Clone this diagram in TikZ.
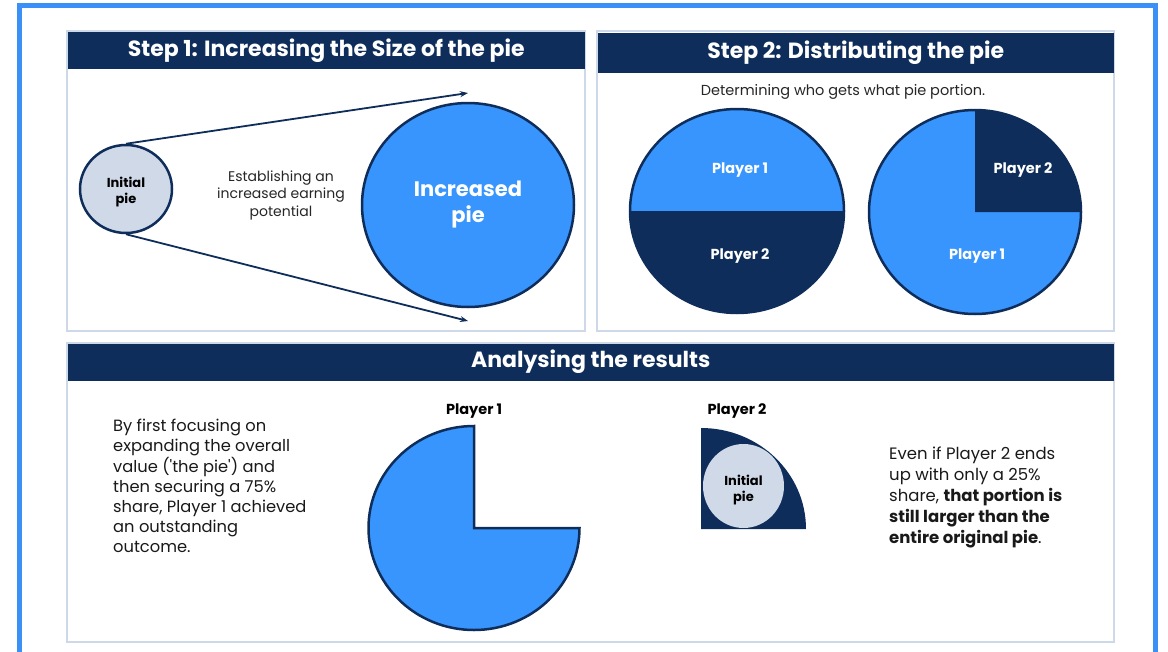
\documentclass[tikz,border=0pt]{standalone}
\usepackage{fontspec}
\setmainfont{Poppins}
\usetikzlibrary{arrows.meta,positioning,shapes.geometric}
\definecolor{navy}{HTML}{0E2D5A}
\definecolor{skyblue}{HTML}{3895FD}
\definecolor{paleblue}{HTML}{CFD9E8}
\definecolor{frameblue}{HTML}{3A90F7}
\definecolor{edgegray}{HTML}{CDD9E8}

\begin{document}
\begin{tikzpicture}[
  x=1pt, y=1pt,
  frame/.style={draw=frameblue, line width=5pt},
  panel/.style={draw=edgegray, line width=2pt},
  hdr/.style={fill=navy, text=white, inner sep=0pt, anchor=north west,
              minimum height=37pt, font=\fontsize{22}{24}\selectfont\bfseries},
  txt/.style={text=black!85, inner sep=0pt, font=\fontsize{14}{17.5}\selectfont},
  para/.style={text=black!90, inner sep=0pt, anchor=north west, align=left,
               font=\fontsize{16.3}{20.2}\selectfont},
  pname/.style={text=white, inner sep=0pt, font=\fontsize{14.5}{16}\selectfont\bfseries},
  piece/.style={ellipse, fill=paleblue, inner sep=0pt},
  ptext/.style={align=center, inner sep=0pt, font=\fontsize{13}{16}\selectfont\bfseries},
  widen/.style={-{Stealth[length=8pt, width=6pt]}, navy, line width=1.8pt}
]
\useasboundingbox (0,0) rectangle (1168,-651);
\draw[frame] (19,-660) |- (1155,-5) -- (1155,-660);

\draw[panel] (67,-31) rectangle (585,-331);
\draw[panel] (597,-31) rectangle (1114,-331);
\draw[panel] (67,-343) rectangle (1114,-642);
\node[hdr, minimum width=517pt] (h1) at (67.5,-32) {Step 1: Increasing the Size of the pie};
\node[hdr, minimum width=516pt, minimum height=40pt] (h2) at (597.5,-33) {Step 2: Distributing the pie};
\node[hdr, minimum width=1046pt] (h3) at (67.5,-343.5) {Analysing the results};

\node[piece, draw=navy, line width=2.5pt, minimum width=92pt, minimum height=88pt] (ini) at (126,-189) {};
\node[ptext] (ini-t) at ([yshift=-3pt]ini.center) {Initial\\pie};
\node[ellipse, draw=navy, line width=2.5pt, fill=skyblue, text=white, align=center,
      minimum width=212pt, minimum height=204pt, font=\fontsize{21}{26}\selectfont\bfseries] (inc) at (468,-205) {Increased\\pie};
\coordinate (top) at (468,-93);
\coordinate (bot) at (468,-321);
\draw[widen] (ini.north) -- (top);
\draw[widen] (ini.south) -- (bot);
\node[txt, align=center] (est) at (281,-195) {Establishing an\\increased earning\\potential};

\node[txt, font=\fontsize{14.5}{17.5}\selectfont] (det) at (843,-92) {Determining who gets what pie portion.};
\fill[skyblue] (737,-211) -- ++(107,0) arc[start angle=0, end angle=180, x radius=107, y radius=102] -- cycle;
\fill[navy] (737,-211) -- ++(-107,0) arc[start angle=180, end angle=360, x radius=107, y radius=102] -- cycle;
\draw[navy, line width=2.5pt] (737,-211) ellipse[x radius=107, y radius=102];
\node[pname] (a1) at (740,-170) {Player 1};
\node[pname] (a2) at (740,-256) {Player 2};
\fill[skyblue] (975,-212) -- ++(0,102) arc[start angle=90, end angle=360, x radius=106, y radius=102] -- cycle;
\fill[navy] (975,-212) -- ++(106,0) arc[start angle=0, end angle=90, x radius=106, y radius=102] -- cycle;
\draw[navy, line width=2.5pt] (975,-212) ellipse[x radius=106, y radius=102];
\node[pname] (b2) at (1023,-170) {Player 2};
\node[pname] (b1) at (977,-256) {Player 1};

\node[para] (why) at (113,-419) {By first focusing on\\expanding the overall\\value (\textquotesingle the pie\textquotesingle) and\\then securing a 75\%\\share, Player 1 achieved\\an outstanding\\outcome.};
\node[pname, text=black] (c1) at (474,-411) {Player 1};
\filldraw[fill=skyblue, draw=navy, line width=2.5pt] (474,-528) -- ++(0,102) arc[start angle=90, end angle=360, x radius=105.5, y radius=102] -- cycle;
\node[pname, text=black] (c2) at (737,-411) {Player 2};
\fill[navy] (701,-529) -- ++(105,0) arc[start angle=0, end angle=90, x radius=105, y radius=101] -- cycle;
\node[piece, minimum width=81pt, minimum height=84pt] (old) at (743.5,-486) {};
\node[ptext] (old-t) at ([yshift=-4pt]old.center) {Initial\\pie};
\node[para, font=\fontsize{16.5}{20.8}\selectfont] (even) at (889,-447) {Even if Player 2 ends\\up with only a 25\%\\share, \textbf{that portion is}\\\textbf{still larger than the}\\\textbf{entire original pie}.};
\end{tikzpicture}
\end{document}
